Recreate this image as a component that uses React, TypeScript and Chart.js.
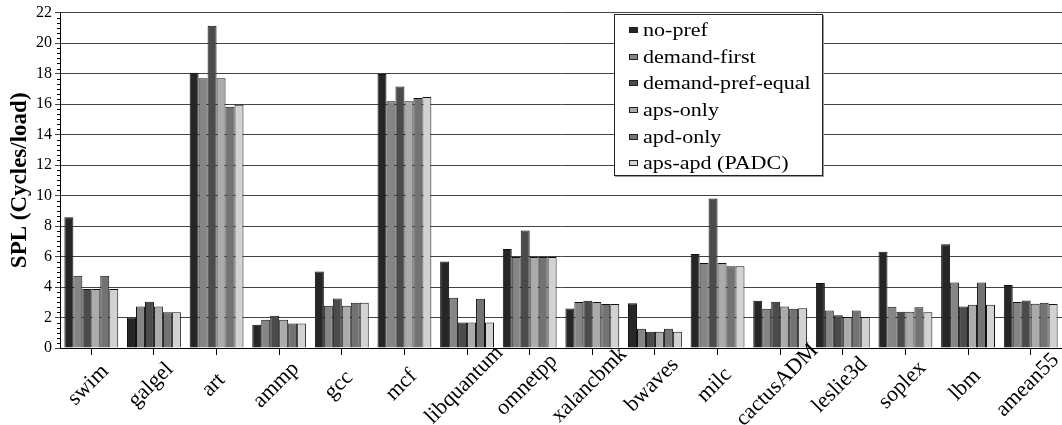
import React, { useEffect, useRef } from "react";
import { Chart, registerables } from "chart.js";

Chart.register(...registerables);

const categories = ["swim", "galgel", "art", "ammp", "gcc", "mcf", "libquantum", "omnetpp", "xalancbmk", "bwaves", "milc", "cactusADM", "leslie3d", "soplex", "lbm", "amean55"];
const seriesNames = ["no-pref", "demand-first", "demand-pref-equal", "aps-only", "apd-only", "aps-apd (PADC)"];
const noPref = [8.57, 2.0, 18.06, 1.53, 5.01, 17.97, 5.67, 6.5, 2.59, 2.94, 6.17, 3.1, 4.27, 6.32, 6.8, 4.14];
const demandFirst = [4.74, 2.72, 17.7, 1.86, 2.77, 16.19, 3.29, 5.97, 3.01, 1.27, 5.58, 2.57, 2.46, 2.7, 4.29, 3.01];
const demandPrefEqual = [3.87, 3.03, 21.13, 2.12, 3.25, 17.15, 1.68, 7.71, 3.1, 1.07, 9.8, 3.03, 2.14, 2.38, 2.72, 3.12];
const apsOnly = [3.87, 2.72, 17.7, 1.86, 2.77, 16.19, 1.68, 5.97, 3.01, 1.07, 5.58, 2.72, 2.03, 2.38, 2.84, 2.9];
const apdOnly = [4.74, 2.35, 15.82, 1.6, 2.97, 16.4, 3.23, 5.97, 2.88, 1.27, 5.36, 2.57, 2.46, 2.68, 4.29, 2.97];
const apsApd = [3.87, 2.35, 15.95, 1.6, 2.97, 16.47, 1.68, 5.97, 2.88, 1.07, 5.36, 2.61, 2.03, 2.35, 2.84, 2.88];
const seriesValues = [noPref, demandFirst, demandPrefEqual, apsOnly, apdOnly, apsApd];
const seriesColors = ["#262626", "#858585", "#4b4b4b", "#ababab", "#737373", "#d2d2d2"];
const yMin = 0;
const yMax = 22;
const yStep = 2;
const yTitle = "SPL (Cycles/load)";

const SERIF = "'Liberation Serif', 'Times New Roman', Tinos, Times, serif";

const minorTicks = {
  id: "minorTicks",
  afterDraw(chart: any) {
    const y = chart.scales.y;
    const ctx = chart.ctx;
    const x0 = chart.chartArea.left;
    ctx.save();
    ctx.strokeStyle = "#000";
    ctx.lineWidth = 1;
    const n = 6;
    for (let v = yMin; v < yMax; v += yStep) {
      for (let k = 1; k < n; k++) {
        const py = Math.round(y.getPixelForValue(v + (k * yStep) / n)) + 0.5;
        ctx.beginPath();
        ctx.moveTo(x0 - 3, py);
        ctx.lineTo(x0, py);
        ctx.stroke();
      }
    }
    ctx.restore();
  },
};

// Category labels centred under their ticks, rotated 45 degrees
const centredXLabels = {
  id: "centredXLabels",
  afterDraw(chart: any) {
    const xs = chart.scales.x;
    const ctx = chart.ctx;
    const labels = chart.data.labels as string[];
    const yc = chart.chartArea.bottom + 37;
    ctx.save();
    ctx.fillStyle = "#000";
    ctx.font = `22px ${SERIF}`;
    ctx.textAlign = "center";
    ctx.textBaseline = "middle";
    labels.forEach((lab, i) => {
      const x = xs.getPixelForTick(i) - 3;
      ctx.save();
      ctx.translate(x, yc);
      ctx.rotate(-Math.PI / 4);
      ctx.fillText(lab, 0, 0);
      ctx.restore();
    });
    ctx.restore();
  },
};

export default function App() {
  const ref = useRef<HTMLCanvasElement>(null);
  useEffect(() => {
    const chart = new Chart(ref.current as HTMLCanvasElement, {
      type: "bar",
      data: {
        labels: categories,
        datasets: seriesNames.map((name, i) => ({
          label: name,
          data: seriesValues[i],
          backgroundColor: seriesColors[i],
          borderColor: "#111",
          borderWidth: 1,
          categoryPercentage: 0.86,
          barPercentage: 1.0,
        })),
      },
      options: {
        animation: false,
        responsive: false,
        devicePixelRatio: 1,
        layout: { padding: { top: 11, right: 0, left: 0, bottom: 0 } },
        plugins: { legend: { display: false }, tooltip: { enabled: false } },
        scales: {
          x: {
            offset: true,
            grid: { offset: false, drawOnChartArea: false, drawTicks: true, tickLength: 7, color: "#000" },
            border: { color: "#000" },
            ticks: { display: false },
            afterFit: (s: any) => {
              s.height = 77;
            },
          },
          y: {
            min: yMin,
            max: yMax,
            ticks: {
              stepSize: yStep,
              color: "#000",
              padding: 3,
              font: { family: SERIF, size: 16 },
            },
            grid: { color: "#444", tickLength: 5 },
            border: { color: "#000" },
            title: {
              display: true,
              text: yTitle,
              color: "#000",
              padding: { top: 6, bottom: 0 },
              font: { family: SERIF, size: 23, weight: "bold" },
            },
            afterFit: (s: any) => {
              s.width = 60;
            },
          },
        },
      },
      plugins: [minorTicks, centredXLabels],
    } as any);
    return () => chart.destroy();
  }, []);

  return (
    <div style={{ position: "absolute", left: 0, top: 0, width: 1062, height: 425, background: "#fff" }}>
      <canvas ref={ref} width={1062} height={425} style={{ display: "block" }} />
      <div
        style={{
          position: "absolute",
          left: 614,
          top: 14,
          width: 209,
          height: 162,
          border: "1px solid #222",
          boxShadow: "1px 1px 0 #999",
          background: "#fff",
          paddingTop: 2,
          boxSizing: "border-box",
        }}
      >
        {seriesNames.map((name, i) => (
          <div key={name} style={{ height: 26.6, display: "flex", alignItems: "center" }}>
            <span
              style={{
                display: "inline-block",
                width: 7,
                height: 4,
                marginLeft: 14,
                border: "1px solid #222",
                background: seriesColors[i],
              }}
            />
            <span
              style={{
                display: "inline-block",
                marginLeft: 5,
                fontFamily: SERIF,
                fontSize: 19,
                lineHeight: "20px",
                color: "#000",
                transform: "scaleX(1.16)",
                transformOrigin: "left center",
                whiteSpace: "nowrap",
              }}
            >
              {name}
            </span>
          </div>
        ))}
      </div>
    </div>
  );
}
